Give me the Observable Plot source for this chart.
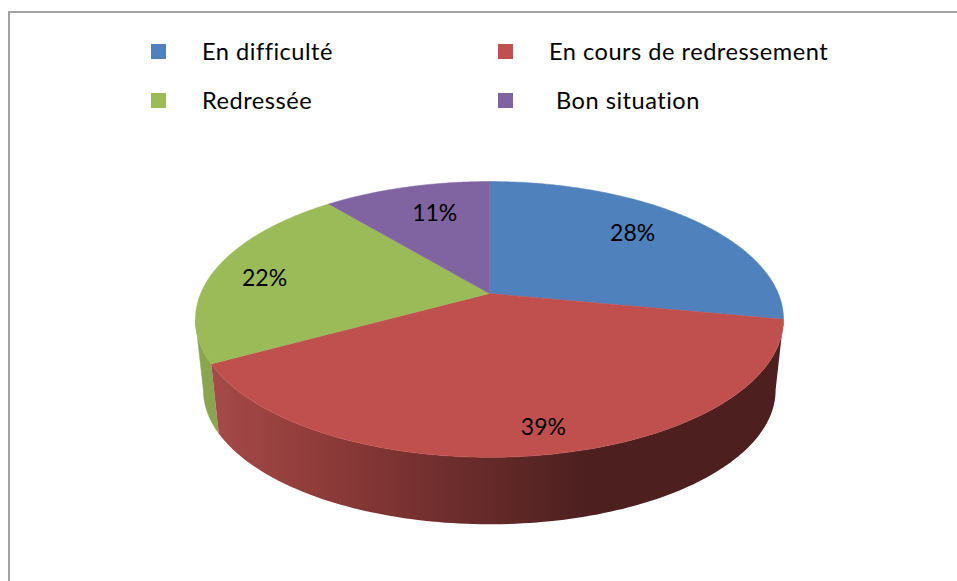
<!DOCTYPE html>
<html><head><meta charset="utf-8">
<script src="https://cdn.jsdelivr.net/npm/d3@7"></script>
<script src="https://cdn.jsdelivr.net/npm/@observablehq/plot@0.6"></script>
<style>
html,body{margin:0;padding:0;background:#fff;overflow:hidden}
#frame{position:absolute;left:8px;top:11px;width:960px;height:600px;border:2px solid #a3a3a3;box-sizing:border-box}
#legend{position:absolute;left:0;top:0;width:957px;height:130px;font:23.6px Lato,sans-serif;color:#000;letter-spacing:.5px;font-variant-ligatures:none}
.key{position:absolute;width:15px;height:15px}
.lab{position:absolute;line-height:28px;white-space:nowrap}
#chart{position:absolute;left:0;top:130px}
</style></head><body>
<div id="frame"></div>
<div id="legend"></div>
<div id="chart"></div>
<script>
const categories = ["En difficulté", "En cours de redressement", "Redressée", "Bon situation"];
const shares = [28, 39, 22, 11];
const colors = ["#4f81bd", "#c0504d", "#9bbb59", "#8064a2"];

// ---- layout ----
const W = 957, H = 451, top0 = 130;
const tilt = 0.188;             // perspective of the disc
const rimScale = 0.973, rimDrop = 0.5368; // lower rim relative to the top face
const labelSpots = [[0.732, -2.7], [0.861, -1.5], [0.804, -2.55], [0.711, 2.3]]; // radius, angle shift
const legendSpots = [[151,202,44,37],[498,549,44,37],[151,202,93,86],[498,556,93,86]];

const proj = (deg, r = 1, s = 1, drop = 0) => {
  const t = deg * Math.PI / 180, u = r * Math.sin(t), v = r * Math.cos(t), w = 1 + tilt * v;
  return {x: s * u / w, y: s * v / w - drop};
};
const steps = (a, b) => d3.range(0, 121).map(i => a + (b - a) * i / 120);

let acc = 0;
const slices = shares.map((v, i) => {
  const a = acc * 3.6; acc += v;
  return {name: categories[i], value: v, a, b: acc * 3.6};
});
const faces = slices.flatMap(s => [
  {...proj(0, 0), name: s.name},
  ...steps(s.a, s.b).map(d => ({...proj(d), name: s.name})),
  {...proj(0, 0), name: s.name}
]);
const wallPath = (a, b) => [
  ...steps(a, b).map(d => proj(d)),
  ...steps(b, a).map(d => proj(d, 1, rimScale, rimDrop))
];
const redWall = wallPath(slices[1].a, slices[1].b);
const greenWall = wallPath(slices[1].b, 259);
const labels = slices.map((s, i) => ({
  ...proj((s.a + s.b) / 2 + labelSpots[i][1], labelSpots[i][0]),
  text: s.value + "%"
}));

const gradient = () => {
  const svg = d3.create("svg:g");
  const g = svg.append("defs").append("linearGradient")
    .attr("id", "wallShade").attr("gradientUnits", "userSpaceOnUse")
    .attr("x1", 214).attr("x2", 783).attr("y1", 0).attr("y2", 0);
  [[0, "#a54a48"], [0.19, "#8e3b39"], [0.46, "#672b2a"], [0.66, "#4d1f1f"], [1, "#4d1f1f"]]
    .forEach(([o, c]) => g.append("stop").attr("offset", o).attr("stop-color", c));
  return svg.node();
};

const plot = Plot.plot({
  width: W, height: H, margin: 0,
  x: {domain: [-1, 1], range: [489 - 288.8, 489 + 288.8], axis: null},
  y: {domain: [1, -1], range: [293 - 133 - top0, 293 + 133 - top0], axis: null},
  color: {domain: categories, range: colors},
  style: {background: "transparent", overflow: "visible"},
  marks: [
    gradient,
    Plot.line(greenWall, {x: "x", y: "y", fill: "#8aa54f", stroke: "#8aa54f", strokeWidth: 0.5}),
    Plot.line(redWall, {x: "x", y: "y", fill: "url(#wallShade)", stroke: "none"}),
    Plot.line(faces, {x: "x", y: "y", z: "name", fill: "name", stroke: "name", strokeWidth: 0.5}),
    Plot.text(labels, {x: "x", y: "y", text: "text", fill: "#000", fontSize: 23, fontFamily: "Lato, sans-serif"})
  ]
});
document.getElementById("chart").append(plot);

const legend = document.getElementById("legend");
categories.forEach((c, i) => {
  const [kx, lx, ky, ly] = legendSpots[i];
  const k = document.createElement("div");
  k.className = "key"; k.style.cssText = `left:${kx}px;top:${ky}px;background:${colors[i]}`;
  const l = document.createElement("div");
  l.className = "lab"; l.style.cssText = `left:${lx}px;top:${ly}px`; l.textContent = c;
  legend.append(k, l);
});
</script>
</body></html>
